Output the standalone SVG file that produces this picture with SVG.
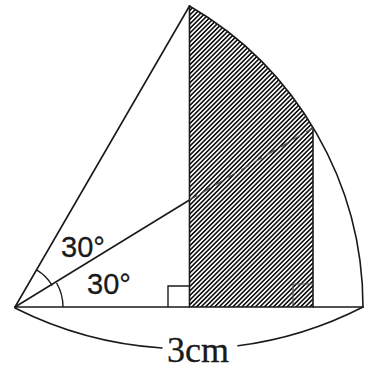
<svg xmlns="http://www.w3.org/2000/svg" width="368" height="372" viewBox="0 0 368 372">
<defs>
<pattern id="hatch" patternUnits="userSpaceOnUse" width="3.2" height="10" patternTransform="rotate(45)">
<rect x="0" y="0" width="1.6" height="10" fill="#111"/>
</pattern>
<style>
.ln{fill:none;stroke:#1a1a1a;stroke-width:1.6;stroke-linecap:round;stroke-linejoin:round}
.thin{fill:none;stroke:#1a1a1a;stroke-width:1.4}
.sans{font-family:"Liberation Sans",Arial,sans-serif;font-size:29px;fill:#1a1a1a;stroke:#1a1a1a;stroke-width:0.3}
.serif{font-family:"Liberation Serif","Times New Roman",serif;font-size:36px;fill:#1a1a1a;stroke:#1a1a1a;stroke-width:0.3}
</style>
</defs>
<rect width="368" height="372" fill="#fff"/>
<g id="shaded-region">
<path d="M189.5,6 A348,348 0 0 1 313,128 L313,307 L189.5,307 Z" fill="url(#hatch)" stroke="none"/>
</g>
<g id="connectors">
<path class="ln" d="M15,307 L189.5,6"/>
<path class="ln" d="M189.5,6 A348,348 0 0 1 363,307"/>
<path class="ln" d="M15,307 L363,307"/>
<path class="ln" d="M189.5,6 L189.5,307"/>
<path class="ln" d="M313,128 L313,307"/>
<path class="ln" d="M15,307 L189.5,200"/>
<path d="M189.5,200 L313,128" fill="none" stroke="#555" stroke-width="1.3" stroke-dasharray="9,6"/>
<path class="thin" d="M36.5,269.8 A43,43 0 0 1 52.2,285.5"/>
<path class="thin" d="M56.6,283 A48,48 0 0 1 63,307"/>
<path class="thin" d="M168,307 L168,286 L189.5,286"/>
<path d="M293,307 L293,284 L313,284" fill="none" stroke="#555" stroke-width="1.2"/>
<path class="ln" d="M15,308 A381,381 0 0 0 162,348"/>
<path class="ln" d="M238,345.8 A381,381 0 0 0 363,307"/>
</g>
<g id="labels">
<text class="sans" x="61" y="257">30°</text>
<text class="sans" x="87" y="294">30°</text>
<text class="serif" x="167" y="362">3cm</text>
</g>
</svg>
